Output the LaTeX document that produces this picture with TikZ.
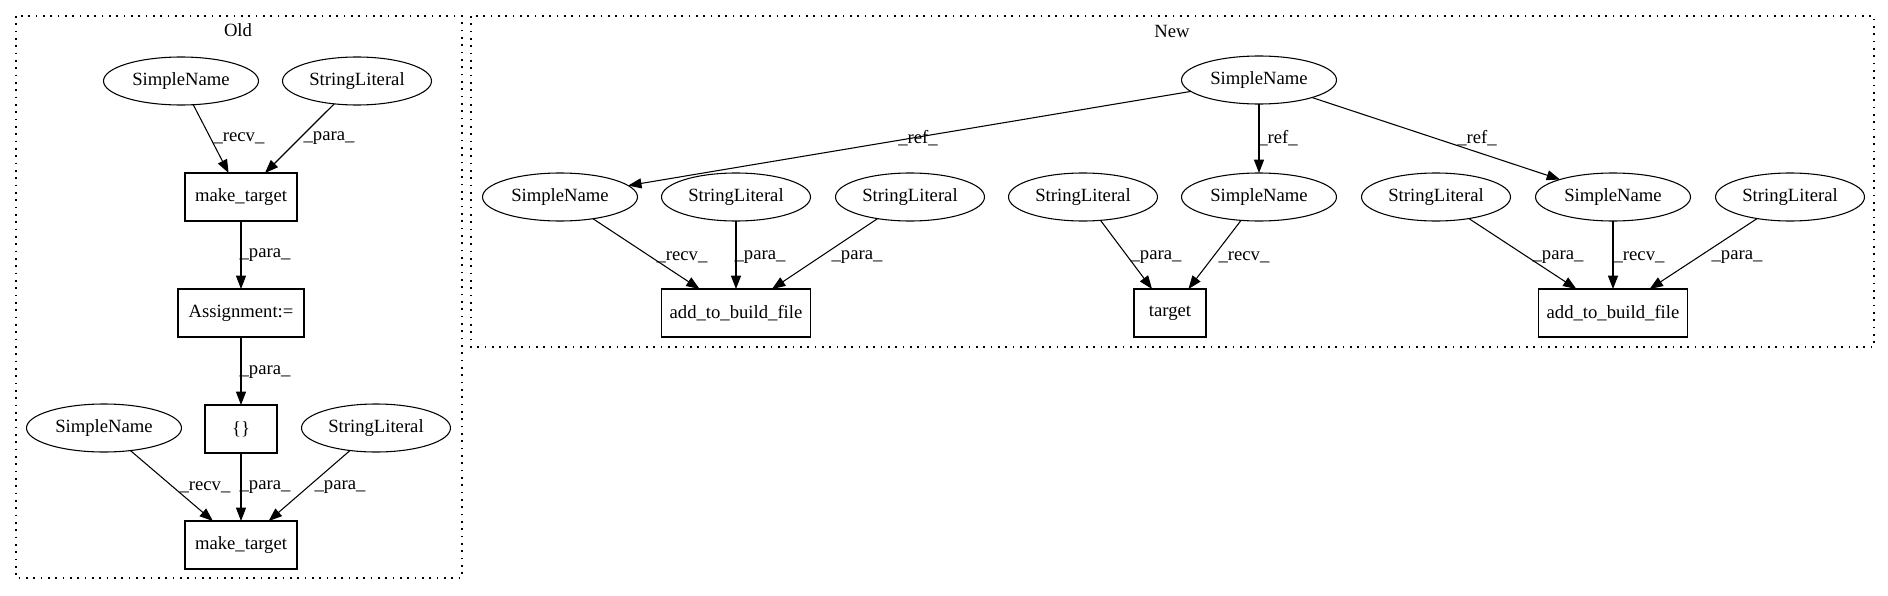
\documentclass[tikz,border=0pt]{standalone}
\usepackage{fontspec}
\setmainfont{Liberation Serif}
\usetikzlibrary{arrows.meta,shapes.geometric}
\begin{document}
\begin{tikzpicture}[x=0.75pt,y=-0.75pt,
  font=\fontsize{14}{16}\selectfont,
  every node/.style={inner sep=0pt,outer sep=0pt},
  ell/.style={draw,line width=0.8pt,ellipse,minimum height=36pt},
  sn/.style={ell,minimum width=116.25pt},
  sl/.style={ell,minimum width=111.75pt},
  box/.style={draw,line width=0.8pt,rectangle,minimum height=36pt},
  edge/.style={draw,line width=0.8pt,-{Triangle[length=10pt,width=7.5pt]}},
  lbl/.style={anchor=center},
  clus/.style={line width=1pt,dash pattern=on 1.2pt off 4.3pt}
]
\useasboundingbox (0,0) rectangle (1888,596);
% clusters
\draw[clus] (16,16) rectangle (462,578);
\draw[clus] (471,16) rectangle (1874,347);
\node (oldlbl) at (238,30) {Old};
\node (newlbl) at (1172,31) {New};

% Old nodes
\node[sn] (o1) at (181,81) {SimpleName};
\node[sl] (o2) at (357,81) {StringLiteral};
\node[box,minimum width=84pt] (omt1) at (241,197) {make\_target};
\node[box,minimum width=94.5pt] (oas) at (241,313) {Assignment:=};
\node[box,minimum width=54pt] (obr) at (241,429) {\{\}};
\node[sn] (o3) at (104,428) {SimpleName};
\node[sl] (o4) at (376,428) {StringLiteral};
\node[box,minimum width=84pt] (omt2) at (241,545) {make\_target};

\draw[edge] (o1) -- (omt1);
\draw[edge] (o2) -- (omt1);
\draw[edge] (omt1) -- (oas);
\draw[edge] (oas) -- (obr);
\draw[edge] (o3) -- (omt2);
\draw[edge] (obr) -- (omt2);
\draw[edge] (o4) -- (omt2);
\node[lbl] (l1) at (239,138) {\_recv\_};
\node[lbl] (l2) at (329,138) {\_para\_};
\node[lbl] (l3) at (265,255) {\_para\_};
\node[lbl] (l4) at (265,372) {\_para\_};
\node[lbl] (l5) at (205,487) {\_recv\_};
\node[lbl] (l6) at (265,487) {\_para\_};
\node[lbl] (l7) at (340,487) {\_para\_};

% New nodes
\node[sn] (nt) at (1259,80) {SimpleName};
\node[sn] (n1) at (560,197) {SimpleName};
\node[sl] (n2) at (736,197) {StringLiteral};
\node[sl] (n3) at (910,197) {StringLiteral};
\node[sl] (n4) at (1083,197) {StringLiteral};
\node[sn] (n5) at (1259,197) {SimpleName};
\node[sl] (n6) at (1436,197) {StringLiteral};
\node[sn] (n7) at (1613,197) {SimpleName};
\node[sl] (n8) at (1790,197) {StringLiteral};
\node[box,minimum width=111.75pt] (nab1) at (736,313) {add\_to\_build\_file};
\node[box,minimum width=54pt] (ntg) at (1170,313) {target};
\node[box,minimum width=111.75pt] (nab2) at (1613,313) {add\_to\_build\_file};

\draw[edge] (nt) -- (n1);
\draw[edge] (nt) -- (n5);
\draw[edge] (nt) -- (n7);
\draw[edge] (n1) -- (nab1);
\draw[edge] (n2) -- (nab1);
\draw[edge] (n3) -- (nab1);
\draw[edge] (n4) -- (ntg);
\draw[edge] (n5) -- (ntg);
\draw[edge] (n6) -- (nab2);
\draw[edge] (n7) -- (nab2);
\draw[edge] (n8) -- (nab2);
\node[lbl] (m1) at (918,138) {\_ref\_};
\node[lbl] (m2) at (1278,138) {\_ref\_};
\node[lbl] (m3) at (1477,138) {\_ref\_};
\node[lbl] (m4) at (682,257) {\_recv\_};
\node[lbl] (m5) at (760,257) {\_para\_};
\node[lbl] (m6) at (857,257) {\_para\_};
\node[lbl] (m7) at (1156,257) {\_para\_};
\node[lbl] (m8) at (1244,257) {\_recv\_};
\node[lbl] (m9) at (1558,257) {\_para\_};
\node[lbl] (m10) at (1639,257) {\_recv\_};
\node[lbl] (m11) at (1737,257) {\_para\_};
\end{tikzpicture}
\end{document}
